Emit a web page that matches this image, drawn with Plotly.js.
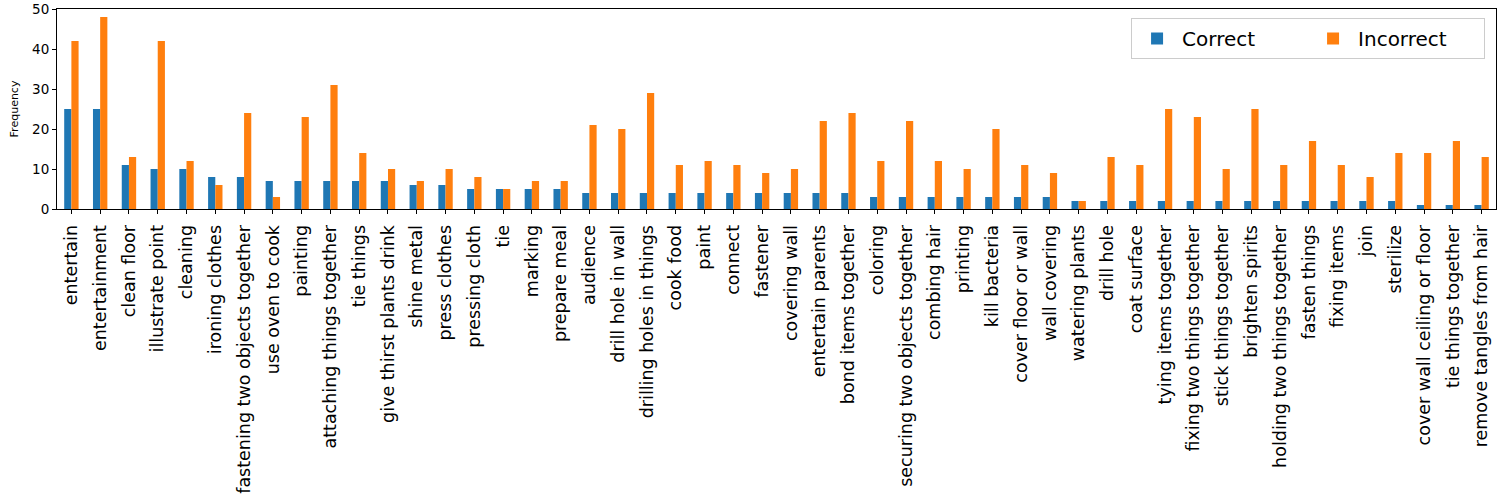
<!DOCTYPE html>
<html>
<head>
<meta charset="utf-8">
<script src="https://cdn.plot.ly/plotly-3.0.1.min.js"></script>
<style>html,body{margin:0;padding:0;background:#fff;}#chart{width:1500px;height:500px;}</style>
</head>
<body>
<div id="chart"></div>
<script>
const categories = ["entertain","entertainment","clean floor","illustrate point","cleaning","ironing clothes","fastening two objects together","use oven to cook","painting","attaching things together","tie things","give thirst plants drink","shine metal","press clothes","pressing cloth","tie","marking","prepare meal","audience","drill hole in wall","drilling holes in things","cook food","paint","connect","fastener","covering wall","entertain parents","bond items together","coloring","securing two objects together","combing hair","printing","kill bacteria","cover floor or wall","wall covering","watering plants","drill hole","coat surface","tying items together","fixing two things together","stick things together","brighten spirits","holding two things together","fasten things","fixing items","join","sterilize","cover wall ceiling or floor","tie things together","remove tangles from hair"];
const correct = [25,25,11,10,10,8,8,7,7,7,7,7,6,6,5,5,5,5,4,4,4,4,4,4,4,4,4,4,3,3,3,3,3,3,3,2,2,2,2,2,2,2,2,2,2,2,2,1,1,1];
const incorrect = [42,48,13,42,12,6,24,3,23,31,14,10,7,10,8,5,7,7,21,20,29,11,12,11,9,10,22,24,12,22,12,10,20,11,9,2,13,11,25,23,10,25,11,17,11,8,14,14,17,13];

const font = "DejaVu Sans, sans-serif";
const data = [
  {type:"bar", name:"Correct", x:categories, y:correct, marker:{color:"#1f77b4", line:{width:0}}},
  {type:"bar", name:"Incorrect", x:categories, y:incorrect, marker:{color:"#ff7f0e", line:{width:0}}}
];
const layout = {
  width:1500, height:500,
  margin:{l:57, r:4, t:9, b:291, pad:0},
  paper_bgcolor:"#fff", plot_bgcolor:"#fff",
  font:{family:font, color:"#000"},
  barmode:"group", bargap:0.5, bargroupgap:0,
  showlegend:true,
  legend:{orientation:"h", x:0.9924, xanchor:"right", y:0.955, yanchor:"top",
    font:{size:20, family:font}, bordercolor:"#cccccc", borderwidth:1, bgcolor:"rgba(255,255,255,0.8)",
    itemwidth:40, entrywidth:121},
  xaxis:{type:"category", range:[-0.5,49.5], tickangle:-90, tickfont:{size:17.5, family:font},
    ticks:"outside", ticklen:4, tickcolor:"#000", ticklabelstandoff:4, showline:true, linecolor:"#000", linewidth:1, mirror:true,
    showgrid:false, zeroline:false, automargin:false},
  yaxis:{range:[0,50], tickvals:[0,10,20,30,40,50], tickfont:{size:13.5, family:font},
    ticks:"outside", ticklen:4, tickcolor:"#000", showline:true, linecolor:"#000", linewidth:1, mirror:true,
    showgrid:false, zeroline:false, automargin:false,
    title:{text:"Frequency", font:{size:11, family:font}, standoff:11}}
};
Plotly.newPlot("chart", data, layout, {displayModeBar:false, staticPlot:true});
</script>
</body>
</html>
